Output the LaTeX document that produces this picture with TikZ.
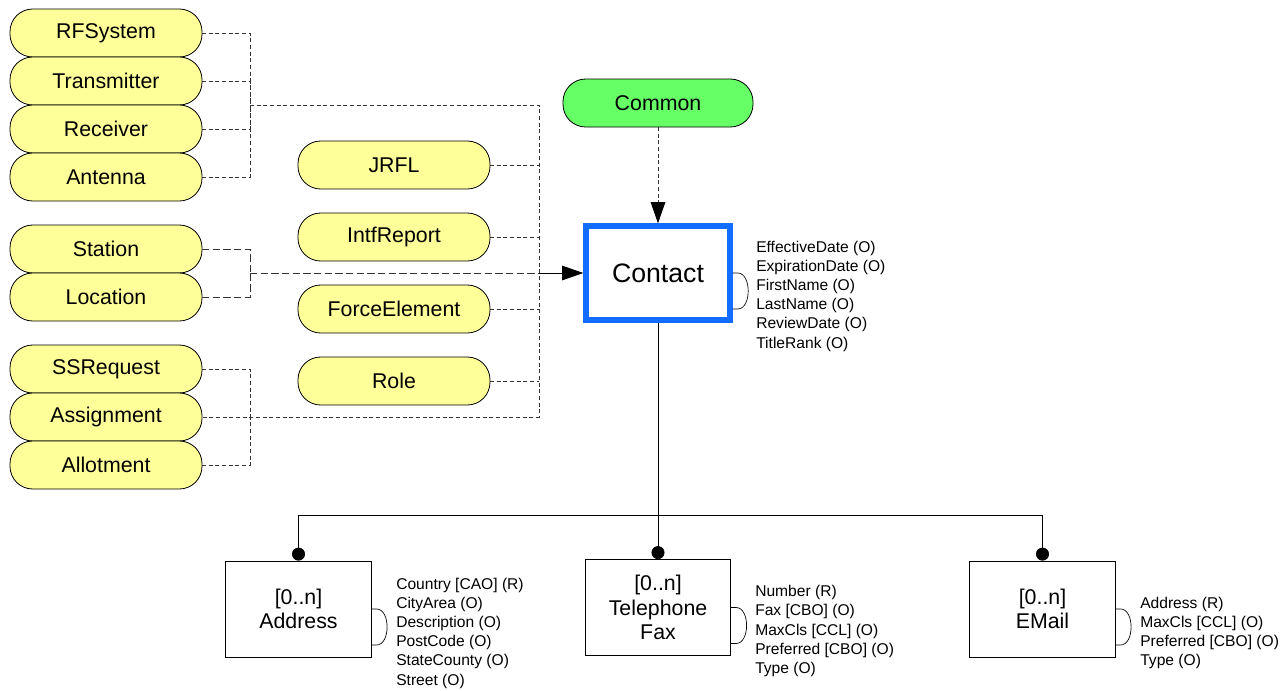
\documentclass[tikz,border=0pt]{standalone}
\usepackage{fontspec}
\setmainfont{Liberation Sans}
\usetikzlibrary{arrows.meta,shapes,positioning}
\definecolor{pillyellow}{RGB}{255,255,153}
\definecolor{commongreen}{RGB}{102,255,102}
\definecolor{contactblue}{RGB}{17,108,255}

\begin{document}
\begin{tikzpicture}[x=0.75pt,y=-0.75pt,>={Triangle[length=16pt,width=11pt,color=black]},
    pill/.style={draw,line width=0.6pt,fill=pillyellow,rounded corners=17pt,minimum width=144pt,minimum height=36pt,outer sep=0pt,font=\fontsize{16}{19}\selectfont},
    contactbox/.style={draw=contactblue,line width=4pt,minimum width=108pt,minimum height=70.5pt,font=\fontsize{20}{24}\selectfont},
    ebox/.style={draw,line width=0.6pt,minimum width=109pt,minimum height=72pt,align=center,font=\fontsize{16}{18.5}\selectfont},
    attrs/.style={anchor=west,inner sep=0pt,align=left,font=\fontsize{11.7}{14.4}\selectfont},
    link/.style={draw=black!80,line width=0.6pt,dash pattern=on 3pt off 2pt},
    longlink/.style={draw=black!80,line width=0.6pt,dash pattern=on 5.5pt off 2.5pt},
    solidline/.style={draw,line width=0.6pt},
    hook/.style={draw,line width=0.5pt}]
\useasboundingbox (0,0) rectangle (1285,690);

% left column
\node[pill] (rfsys) at (106,33) {RFSystem};
\node[pill] (trans) [below=0pt of rfsys] {Transmitter};
\node[pill] (recv) [below=0pt of trans] {Receiver};
\node[pill] (antenna) [below=0pt of recv] {Antenna};
\node[pill] (station) [below=18pt of antenna] {Station};
\node[pill] (location) [below=0pt of station] {Location};
\node[pill] (ssreq) [below=18pt of location] {SSRequest};
\node[pill] (assign) [below=0pt of ssreq] {Assignment};
\node[pill] (allot) [below=0pt of assign] {Allotment};

% middle column
\node[pill] (jrfl) at (394,165) {JRFL};
\node[pill] (intf) [below=18pt of jrfl] {IntfReport};
\node[pill] (force) [below=18pt of intf] {ForceElement};
\node[pill] (role) [below=18pt of force] {Role};

\node[contactbox] (contact) at (658,273) {Contact};
\node[pill,fill=commongreen,minimum width=142.5pt] (common) at (658,103) {Common};

\node[ebox] (address) at (298.5,609) {[0..n]\\Address};
\node[ebox] (phone) at (658,607.5) {[0..n]\\Telephone\\Fax};
\node[ebox] (email) at (1042.5,609) {[0..n]\\EMail};

\coordinate (grpA) at (250,105);
\coordinate (grpB) at (250,273);
\coordinate (grpC) at (250,417);
\coordinate (busN) at (539,105);
\coordinate (busM) at (539,273);
\coordinate (busS) at (539,417);
\coordinate (fork) at (658,515);

\foreach \n in {rfsys,trans,recv,antenna}
    \draw[link] (\n.east) -| (grpA);
\foreach \n in {station,location}
    \draw[longlink] (\n.east) -| (grpB);
\foreach \n in {ssreq,allot}
    \draw[link] (\n.east) -| (grpC);
\draw[link] (grpA) -- (busN) -- (busS) -- (assign.east);
\foreach \n in {jrfl,intf,force,role}
    \draw[link] (\n.east) -- (\n.east -| busN);
\draw[longlink] (grpB) -- (busM);
\draw[solidline,->] (busM) -- (contact.west);
\draw[link,->] (common.south) -- (contact.north);

\draw[solidline] (contact.south) -- (fork);
\draw[solidline,-{Circle[length=9.75pt]}] (fork) -| (address.north);
\draw[solidline,-{Circle[length=9.75pt]}] (fork) -- (phone.north);
\draw[solidline,-{Circle[length=9.75pt]}] (fork) -| (email.north);

% attribute lists
\foreach \n in {contact,address,phone,email}
    \draw[hook] (\n.east) -- ++(5,0) to[out=0,in=0,looseness=1] ++(0,36) -- ++(-5,0);
\node[attrs] (contactattr) at (756,296) {EffectiveDate (O)\\ExpirationDate (O)\\FirstName (O)\\LastName (O)\\ReviewDate (O)\\TitleRank (O)};
\node[attrs] (addressattr) at (396,633) {Country [CAO] (R)\\CityArea (O)\\Description (O)\\PostCode (O)\\StateCounty (O)\\Street (O)};
\node[attrs] (phoneattr) at (755,631) {Number (R)\\Fax [CBO] (O)\\MaxCls [CCL] (O)\\Preferred [CBO] (O)\\Type (O)};
\node[attrs] (emailattr) at (1140,633) {Address (R)\\MaxCls [CCL] (O)\\Preferred [CBO] (O)\\Type (O)};
\end{tikzpicture}
\end{document}
